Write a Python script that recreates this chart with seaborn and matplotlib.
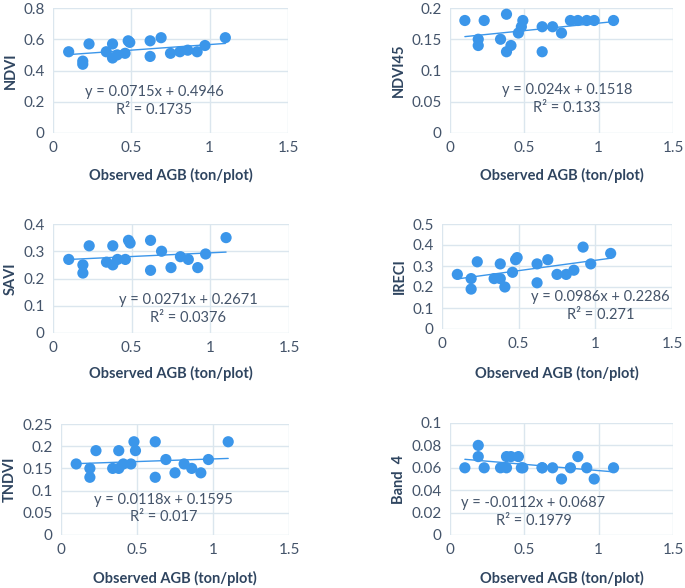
import seaborn as sns
import matplotlib.pyplot as plt
import numpy as np
import pandas as pd

# observed AGB (shared x for every panel)
agb = [0.10, 0.19, 0.19, 0.23, 0.34, 0.38, 0.38, 0.41, 0.46, 0.48,
       0.49, 0.62, 0.62, 0.69, 0.75, 0.81, 0.86, 0.92, 0.97, 1.10]

ndvi = [0.52, 0.46, 0.44, 0.57, 0.52, 0.57, 0.48, 0.50, 0.51, 0.59,
        0.58, 0.59, 0.49, 0.61, 0.51, 0.52, 0.53, 0.52, 0.56, 0.61]
ndvi45 = [0.18, 0.15, 0.14, 0.18, 0.15, 0.19, 0.13, 0.14, 0.16, 0.17,
          0.18, 0.17, 0.13, 0.17, 0.16, 0.18, 0.18, 0.18, 0.18, 0.18]
savi = [0.27, 0.25, 0.22, 0.32, 0.26, 0.32, 0.25, 0.27, 0.27, 0.34,
        0.33, 0.34, 0.23, 0.30, 0.24, 0.28, 0.27, 0.24, 0.29, 0.35]
ireci = [0.26, 0.24, 0.19, 0.32, 0.24, 0.31, 0.24, 0.20, 0.27, 0.33,
         0.34, 0.31, 0.22, 0.33, 0.26, 0.26, 0.28, 0.39, 0.31, 0.36]
tndvi = [0.16, 0.15, 0.13, 0.19, 0.15, 0.19, 0.15, 0.16, 0.16, 0.21,
         0.19, 0.21, 0.13, 0.17, 0.14, 0.16, 0.15, 0.14, 0.17, 0.21]
band4 = [0.06, 0.08, 0.07, 0.06, 0.06, 0.07, 0.06, 0.07, 0.07, 0.06,
         0.06, 0.06, 0.06, 0.06, 0.05, 0.06, 0.07, 0.06, 0.05, 0.06]

names = ["NDVI", "NDVI45", "SAVI", "IRECI", "TNDVI", "Band  4"]
series = [ndvi, ndvi45, savi, ireci, tndvi, band4]
slopes = [0.0715, 0.024, 0.0271, 0.0986, 0.0118, -0.0112]
intercepts = [0.4946, 0.1518, 0.2671, 0.2286, 0.1595, 0.0687]
eq_text = ["y = 0.0715x + 0.4946", "y = 0.024x + 0.1518", "y = 0.0271x + 0.2671",
           "y = 0.0986x + 0.2286", "y = 0.0118x + 0.1595", "y = -0.0112x + 0.0687"]
r2_text = ["R² = 0.1735", "R² = 0.133", "R² = 0.0376",
           "R² = 0.271", "R² = 0.017", "R² = 0.1979"]
y_max = [0.8, 0.2, 0.4, 0.5, 0.25, 0.1]
y_step = [0.2, 0.05, 0.1, 0.1, 0.05, 0.02]

# axes boxes in pixels: left, top, right, bottom
boxes = [(53, 8, 288, 133), (450, 8, 673, 133),
         (53, 224, 289, 333), (442, 224, 672, 329),
         (61, 424, 289, 535), (450, 423, 673, 535)]
text_pos = [(0.43, 0.325, 0.18), (0.525, 0.347, 0.20),
            (0.574, 0.30, 0.137), (0.69, 0.30, 0.136),
            (0.45, 0.315, 0.16), (0.374, 0.284, 0.128)]
xlab_y = [175, 175, 373, 373, 578, 578]

sns.set_style("white")
plt.rcParams['font.family'] = ['Lato', 'DejaVu Sans']

W, H = 685, 588
fig = plt.figure(figsize=(W / 100, H / 100), dpi=100)

blue = "#3b96ea"
tick_col = "#44546a"
lab_col = "#2f4560"
grid_col = "#dbe6ee"

for i in range(6):
    l, t, r, b = boxes[i]
    ax = fig.add_axes([l / W, 1 - b / H, (r - l) / W, (b - t) / H])
    df = pd.DataFrame({"AGB": agb, "val": series[i]})
    ax.set_axisbelow(True)
    ax.grid(True, color=grid_col, lw=1)
    xs = np.array([min(agb), max(agb)])
    ax.plot(xs, slopes[i] * xs + intercepts[i], color=blue, lw=1, zorder=2)
    sns.scatterplot(data=df, x="AGB", y="val", ax=ax, color=blue, s=65,
                    edgecolor="none", zorder=3)
    ax.set_xlim(0, 1.5)
    ax.set_ylim(0, y_max[i])
    ax.set_xticks([0, 0.5, 1, 1.5])
    ax.set_xticklabels(["0", "0.5", "1", "1.5"])
    yt = np.arange(0, y_max[i] + y_step[i] / 2, y_step[i])
    ax.set_yticks(yt)
    ax.set_yticklabels(["{:g}".format(round(v, 3)) for v in yt])
    ax.tick_params(axis="both", length=0, labelsize=11, colors=tick_col, pad=6)
    for s in ax.spines.values():
        s.set_visible(False)
    ax.set_xlabel("")
    ax.set_ylabel(names[i], fontsize=10.5, fontweight="bold", color=lab_col, labelpad=4)
    tx, ty1, ty2 = text_pos[i]
    ax.text(tx, ty1, eq_text[i], transform=ax.transAxes, ha="center", va="center",
            fontsize=10.5, color=tick_col)
    ax.text(tx, ty2, r2_text[i], transform=ax.transAxes, ha="center", va="center",
            fontsize=10.5, color=tick_col)
    fig.text(((l + r) / 2) / W, 1 - xlab_y[i] / H, "Observed AGB (ton/plot)",
             ha="center", va="center", fontsize=10.5, fontweight="bold", color=lab_col)

fig.savefig("out.png", dpi=100)
